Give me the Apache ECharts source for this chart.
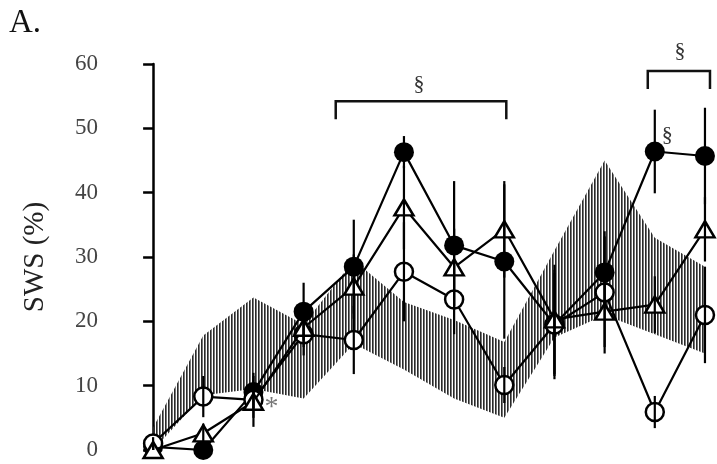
<!DOCTYPE html>
<html>
<head>
<meta charset="utf-8">
<script src="https://cdn.jsdelivr.net/npm/echarts@6/dist/echarts.min.js"></script>
<style>
  html, body { margin: 0; padding: 0; background: #fff; }
  #chart { width: 717px; height: 464px; }
</style>
</head>
<body>
<div id="chart"></div>
<script>
// Time points (index along the x axis, axis itself not drawn)
const timePoints = [0, 1, 2, 3, 4, 5, 6, 7, 8, 9, 10, 11];

// Reference range (hatched band): lower and upper bounds
const bandLow  = [0, 8.5, 9.5, 8, 16.5, 12.5, 8, 5, 17.5, 21, 18, 15];
const bandHigh = [3.5, 17.8, 23.7, 19.5, 29.5, 23, 20.2, 16.8, 31, 45, 33, 28.5];

// Filled circles: mean and error
const filledMean = [0.5, 0, 9, 21.5, 28.5, 46.3, 31.8, 29.3, 19.5, 27.6, 46.4, 45.7];
const filledErr  = [0.5, 0.5, 2.5, 4.5, 7.3, 2.5, 10, 12, 8.5, 5.6, 6.5, 7.5];

// Open triangles: mean and error
const triMean = [0, 2.6, 7.5, 19, 25.4, 37.7, 28.4, 34.3, 20.3, 21.5, 22.6, 34.3];
const triErr  = [0.5, 1.5, 2.5, 3, 5, 6.5, 6, 7.5, 8.5, 5.5, 4.4, 5];

// Open circles: mean and error
const openMean = [1, 8.3, 7.8, 18, 17.1, 27.7, 23.4, 10.1, 19.5, 24.5, 5.9, 21];
const openErr  = [1, 3.2, 4.2, 3.3, 5.3, 7.7, 5.4, 2.8, 8, 9.5, 2.5, 7.5];

// Y axis ticks
const yTicks = [0, 10, 20, 30, 40, 50, 60];

const serif = '"Liberation Serif", "DejaVu Serif", serif';

// Vertical-line hatch used to fill the reference band
function hatchPattern() {
  const c = document.createElement('canvas');
  c.width = 3; c.height = 4;
  const ctx = c.getContext('2d');
  ctx.fillStyle = '#2a2a2a';
  ctx.fillRect(0, 0, 1, 4);
  ctx.fillStyle = 'rgba(30,30,30,0.6)';
  ctx.fillRect(1, 0, 1, 4);
  return c;
}

function pairs(vals) { return vals.map((v, i) => [timePoints[i], v]); }

function errorBars(name, means, errs, z) {
  return {
    type: 'custom',
    name: name,
    z: z,
    clip: false,
    silent: true,
    data: means.map((m, i) => [timePoints[i], Math.max(0, m - errs[i]), m + errs[i]]),
    renderItem: function (params, api) {
      const a = api.coord([api.value(0), api.value(1)]);
      const b = api.coord([api.value(0), api.value(2)]);
      return {
        type: 'line',
        shape: { x1: a[0], y1: a[1], x2: b[0], y2: b[1] },
        style: { stroke: '#000', lineWidth: 2.2 }
      };
    }
  };
}

const hatch = hatchPattern();

// Band drawn as one polygon: upper edge left to right, lower edge back
const bandSeries = {
  type: 'custom',
  name: 'band',
  z: 1,
  silent: true,
  data: timePoints.map((t, i) => [t, bandLow[i], bandHigh[i]]),
  renderItem: function (params, api) {
    if (params.dataIndex !== 0) return null;
    const pts = [];
    for (let i = 0; i < timePoints.length; i++) pts.push(api.coord([timePoints[i], bandHigh[i]]));
    for (let i = timePoints.length - 1; i >= 0; i--) pts.push(api.coord([timePoints[i], bandLow[i]]));
    return {
      type: 'polygon',
      shape: { points: pts },
      style: { fill: { image: hatch, repeat: 'repeat' }, stroke: null }
    };
  }
};

const chart = echarts.init(document.getElementById('chart'), null, { renderer: 'canvas' });

const option = {
  animation: false,
  backgroundColor: '#fff',
  grid: { left: 120, right: 2, top: 64, bottom: 14, containLabel: false },
  xAxis: {
    type: 'value',
    min: -0.66,
    max: 11.2,
    show: false
  },
  yAxis: {
    type: 'value',
    min: yTicks[0],
    max: yTicks[yTicks.length - 1],
    interval: 10,
    name: 'SWS (%)',
    nameLocation: 'middle',
    nameRotate: 90,
    nameGap: 70,
    nameTextStyle: { fontFamily: serif, fontSize: 29, color: '#222' },
    axisLine: { show: true, lineStyle: { color: '#000', width: 2.5 } },
    axisTick: { show: true, length: 10, lineStyle: { color: '#000', width: 2.5 } },
    axisLabel: { margin: 22, fontFamily: serif, fontSize: 23, color: '#444' },
    splitLine: { show: false }
  },
  series: [
    bandSeries,
    {
      type: 'line', name: 'filled', z: 2, clip: false,
      data: pairs(filledMean),
      symbol: 'circle', symbolSize: 20,
      itemStyle: { color: '#000', borderColor: '#000', borderWidth: 0 },
      lineStyle: { color: '#000', width: 2.2 }
    },
    {
      type: 'line', name: 'open', z: 3, clip: false,
      data: pairs(openMean),
      symbol: 'circle', symbolSize: 18,
      itemStyle: { color: '#fff', borderColor: '#000', borderWidth: 2.5 },
      lineStyle: { color: '#000', width: 2.2 }
    },
    {
      type: 'line', name: 'triangle', z: 4, clip: false,
      data: pairs(triMean),
      symbol: 'triangle', symbolSize: [19, 16],
      itemStyle: { color: '#fff', borderColor: '#000', borderWidth: 2.5 },
      lineStyle: { color: '#000', width: 2.2 }
    },
    errorBars('filledErr', filledMean, filledErr, 5),
    errorBars('triErr', triMean, triErr, 5),
    errorBars('openErr', openMean, openErr, 5)
  ]
};

chart.setOption(option);

// Annotations placed in data coordinates
function px(x, y) { return chart.convertToPixel({ gridIndex: 0 }, [x, y]); }

function bracket(x1, x2, y, yLeg) {
  const a = px(x1, y), b = px(x2, y), c = px(x1, yLeg);
  return {
    type: 'polyline',
    shape: { points: [[a[0], c[1]], a, b, [b[0], c[1]]] },
    style: { stroke: '#111', lineWidth: 2.5, fill: null }
  };
}
function label(text, x, y, size, color) {
  const p = px(x, y);
  return {
    type: 'text', x: p[0], y: p[1],
    style: { text: text, fontFamily: serif, fontSize: size, fill: color || '#333', align: 'center', verticalAlign: 'middle' }
  };
}

const b1 = bracket(3.64, 7.04, 54.2, 51.4);
const b2 = bracket(9.86, 11.1, 58.9, 56.1);

chart.setOption({
  graphic: [
    { type: 'text', left: 9, top: 7, style: { text: 'A.', fontFamily: serif, fontSize: 33, fill: '#111' } },
    b1, b2,
    label('§', 5.3, 56.8, 22),
    label('§', 10.5, 62, 22),
    label('§', 10.25, 49, 22),
    label('*', 2.36, 6.6, 28, '#777')
  ]
});
</script>
</body>
</html>
